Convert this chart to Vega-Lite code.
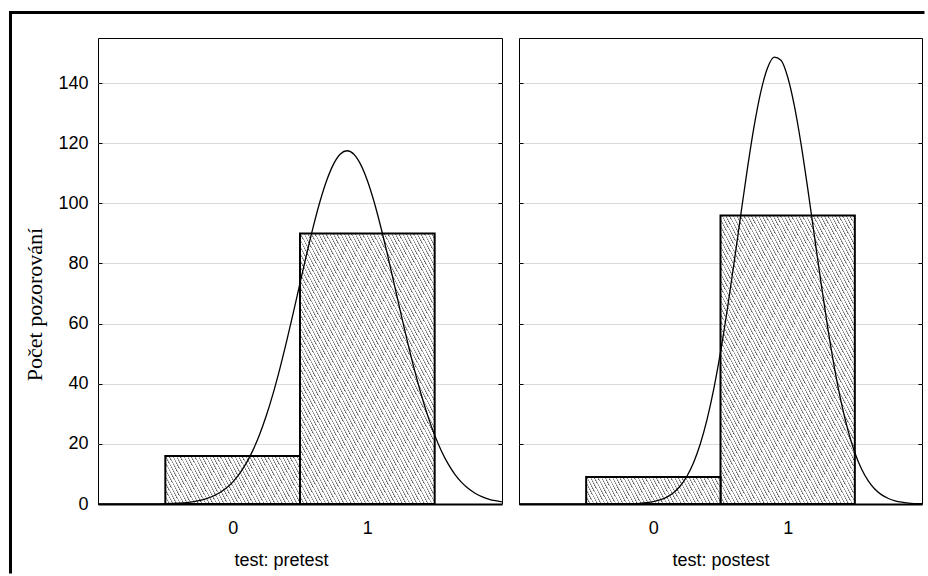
{
  "$schema": "https://vega.github.io/schema/vega-lite/v6.json",
  "padding": {"left": 7, "top": 9, "right": 0, "bottom": 0},
  "background": "white",
  "datasets": {
    "bars_pre": [
      {"start": -0.5, "end": 0.5, "count": 16},
      {"start": 0.5, "end": 1.5, "count": 90}
    ],
    "bars_post": [
      {"start": -0.5, "end": 0.5, "count": 9},
      {"start": 0.5, "end": 1.5, "count": 96}
    ],
    "curve_pre": [
      {"x": -1, "y": 0}, {"x": -0.8, "y": 0}, {"x": -0.6, "y": 0.04}, {"x": -0.5, "y": 0.1},
      {"x": -0.4, "y": 0.29}, {"x": -0.3, "y": 0.72}, {"x": -0.2, "y": 1.68}, {"x": -0.1, "y": 3.64},
      {"x": -0.05, "y": 5.2}, {"x": 0, "y": 7.28}, {"x": 0.05, "y": 10.01}, {"x": 0.1, "y": 13.49},
      {"x": 0.15, "y": 17.84}, {"x": 0.2, "y": 23.14}, {"x": 0.25, "y": 29.43}, {"x": 0.3, "y": 36.73},
      {"x": 0.35, "y": 44.97}, {"x": 0.4, "y": 53.98}, {"x": 0.45, "y": 63.58}, {"x": 0.5, "y": 73.45},
      {"x": 0.55, "y": 83.23}, {"x": 0.6, "y": 92.5}, {"x": 0.65, "y": 100.85}, {"x": 0.7, "y": 107.85},
      {"x": 0.75, "y": 113.14}, {"x": 0.8, "y": 116.42}, {"x": 0.85, "y": 117.5}, {"x": 0.9, "y": 116.33},
      {"x": 0.95, "y": 112.96}, {"x": 1, "y": 107.61}, {"x": 1.05, "y": 100.55}, {"x": 1.1, "y": 92.14},
      {"x": 1.15, "y": 82.84}, {"x": 1.2, "y": 73.05}, {"x": 1.25, "y": 63.18}, {"x": 1.3, "y": 53.61},
      {"x": 1.35, "y": 44.62}, {"x": 1.4, "y": 36.43}, {"x": 1.45, "y": 29.16}, {"x": 1.5, "y": 22.91},
      {"x": 1.55, "y": 17.65}, {"x": 1.6, "y": 13.34}, {"x": 1.65, "y": 9.89}, {"x": 1.7, "y": 7.19},
      {"x": 1.75, "y": 5.13}, {"x": 1.8, "y": 3.59}, {"x": 1.85, "y": 2.46}, {"x": 1.9, "y": 1.66},
      {"x": 1.95, "y": 1.09}, {"x": 2, "y": 0.71}
    ],
    "curve_post": [
      {"x": -1, "y": 0}, {"x": -0.6, "y": 0}, {"x": -0.4, "y": 0}, {"x": -0.3, "y": 0.01},
      {"x": -0.2, "y": 0.06}, {"x": -0.1, "y": 0.23}, {"x": -0.05, "y": 0.42}, {"x": 0, "y": 0.77},
      {"x": 0.05, "y": 1.34}, {"x": 0.1, "y": 2.28}, {"x": 0.15, "y": 3.75}, {"x": 0.2, "y": 5.98},
      {"x": 0.25, "y": 9.23}, {"x": 0.3, "y": 13.82}, {"x": 0.35, "y": 20.02}, {"x": 0.4, "y": 28.12},
      {"x": 0.45, "y": 38.29}, {"x": 0.5, "y": 50.5}, {"x": 0.55, "y": 64.53}, {"x": 0.6, "y": 79.91},
      {"x": 0.65, "y": 95.89}, {"x": 0.7, "y": 111.48}, {"x": 0.75, "y": 125.59}, {"x": 0.8, "y": 137.09},
      {"x": 0.85, "y": 145.01}, {"x": 0.9, "y": 148.62}, {"x": 0.95, "y": 147.59}, {"x": 1, "y": 142.03},
      {"x": 1.05, "y": 132.42}, {"x": 1.1, "y": 119.64}, {"x": 1.15, "y": 104.73}, {"x": 1.2, "y": 88.85},
      {"x": 1.25, "y": 73.03}, {"x": 1.3, "y": 58.17}, {"x": 1.35, "y": 44.88}, {"x": 1.4, "y": 33.55},
      {"x": 1.45, "y": 24.31}, {"x": 1.5, "y": 17.07}, {"x": 1.55, "y": 11.62}, {"x": 1.6, "y": 7.66},
      {"x": 1.65, "y": 4.89}, {"x": 1.7, "y": 3.03}, {"x": 1.75, "y": 1.82}, {"x": 1.8, "y": 1.05},
      {"x": 1.85, "y": 0.59}, {"x": 1.9, "y": 0.32}, {"x": 2, "y": 0.09}
    ]
  },
  "config": {
    "view": {"stroke": "#000", "strokeWidth": 1},
    "axis": {
      "labelFont": "Liberation Sans", "labelFontSize": 18, "labelColor": "#000",
      "titleFont": "Liberation Sans", "titleFontSize": 18, "titleFontWeight": "normal", "titleColor": "#000",
      "tickColor": "#000", "tickWidth": 1, "domain": false, "grid": false, "gridColor": "#dadada", "gridWidth": 1
    }
  },
  "spacing": 17,
  "bounds": "flush",
  "hconcat": [
    {
      "width": 404, "height": 466,
      "resolve": {"axis": {"x": "independent", "y": "independent"}},
      "layer": [
        {
          "data": {"name": "bars_pre"},
          "transform": [{"filter": "datum.start < 0"}],
          "mark": {"type": "rect", "stroke": "#000", "strokeWidth": 2,
                   "fill": {"gradient": "linear", "x1": 0, "y1": 1, "x2": 2.6129, "y2": 0.49554, "stops": [
{"offset":0,"color":"#555"},{"offset":0.004,"color":"#fff"},{"offset":0.01,"color":"#fff"},
{"offset":0.01,"color":"#555"},{"offset":0.014,"color":"#fff"},{"offset":0.02,"color":"#fff"},
{"offset":0.02,"color":"#555"},{"offset":0.024,"color":"#fff"},{"offset":0.03,"color":"#fff"},
{"offset":0.03,"color":"#555"},{"offset":0.034,"color":"#fff"},{"offset":0.04,"color":"#fff"},
{"offset":0.04,"color":"#555"},{"offset":0.044,"color":"#fff"},{"offset":0.05,"color":"#fff"},
{"offset":0.05,"color":"#555"},{"offset":0.054,"color":"#fff"},{"offset":0.06,"color":"#fff"},
{"offset":0.06,"color":"#555"},{"offset":0.064,"color":"#fff"},{"offset":0.07,"color":"#fff"},
{"offset":0.07,"color":"#555"},{"offset":0.074,"color":"#fff"},{"offset":0.08,"color":"#fff"},
{"offset":0.08,"color":"#555"},{"offset":0.084,"color":"#fff"},{"offset":0.09,"color":"#fff"},
{"offset":0.09,"color":"#555"},{"offset":0.094,"color":"#fff"},{"offset":0.1,"color":"#fff"},
{"offset":0.1,"color":"#555"},{"offset":0.104,"color":"#fff"},{"offset":0.11,"color":"#fff"},
{"offset":0.11,"color":"#555"},{"offset":0.114,"color":"#fff"},{"offset":0.12,"color":"#fff"},
{"offset":0.12,"color":"#555"},{"offset":0.124,"color":"#fff"},{"offset":0.13,"color":"#fff"},
{"offset":0.13,"color":"#555"},{"offset":0.134,"color":"#fff"},{"offset":0.14,"color":"#fff"},
{"offset":0.14,"color":"#555"},{"offset":0.144,"color":"#fff"},{"offset":0.15,"color":"#fff"},
{"offset":0.15,"color":"#555"},{"offset":0.154,"color":"#fff"},{"offset":0.16,"color":"#fff"},
{"offset":0.16,"color":"#555"},{"offset":0.164,"color":"#fff"},{"offset":0.17,"color":"#fff"},
{"offset":0.17,"color":"#555"},{"offset":0.174,"color":"#fff"},{"offset":0.18,"color":"#fff"},
{"offset":0.18,"color":"#555"},{"offset":0.184,"color":"#fff"},{"offset":0.19,"color":"#fff"},
{"offset":0.19,"color":"#555"},{"offset":0.194,"color":"#fff"},{"offset":0.2,"color":"#fff"},
{"offset":0.2,"color":"#555"},{"offset":0.204,"color":"#fff"},{"offset":0.21,"color":"#fff"},
{"offset":0.21,"color":"#555"},{"offset":0.214,"color":"#fff"},{"offset":0.22,"color":"#fff"},
{"offset":0.22,"color":"#555"},{"offset":0.224,"color":"#fff"},{"offset":0.23,"color":"#fff"},
{"offset":0.23,"color":"#555"},{"offset":0.234,"color":"#fff"},{"offset":0.24,"color":"#fff"},
{"offset":0.24,"color":"#555"},{"offset":0.244,"color":"#fff"},{"offset":0.25,"color":"#fff"},
{"offset":0.25,"color":"#555"},{"offset":0.254,"color":"#fff"},{"offset":0.26,"color":"#fff"},
{"offset":0.26,"color":"#555"},{"offset":0.264,"color":"#fff"},{"offset":0.27,"color":"#fff"},
{"offset":0.27,"color":"#555"},{"offset":0.274,"color":"#fff"},{"offset":0.28,"color":"#fff"},
{"offset":0.28,"color":"#555"},{"offset":0.284,"color":"#fff"},{"offset":0.29,"color":"#fff"},
{"offset":0.29,"color":"#555"},{"offset":0.294,"color":"#fff"},{"offset":0.3,"color":"#fff"},
{"offset":0.3,"color":"#555"},{"offset":0.304,"color":"#fff"},{"offset":0.31,"color":"#fff"},
{"offset":0.31,"color":"#555"},{"offset":0.314,"color":"#fff"},{"offset":0.32,"color":"#fff"},
{"offset":0.32,"color":"#555"},{"offset":0.324,"color":"#fff"},{"offset":0.33,"color":"#fff"},
{"offset":0.33,"color":"#555"},{"offset":0.334,"color":"#fff"},{"offset":0.34,"color":"#fff"},
{"offset":0.34,"color":"#555"},{"offset":0.344,"color":"#fff"},{"offset":0.35,"color":"#fff"},
{"offset":0.35,"color":"#555"},{"offset":0.354,"color":"#fff"},{"offset":0.36,"color":"#fff"},
{"offset":0.36,"color":"#555"},{"offset":0.364,"color":"#fff"},{"offset":0.37,"color":"#fff"},
{"offset":0.37,"color":"#555"},{"offset":0.374,"color":"#fff"},{"offset":0.38,"color":"#fff"},
{"offset":0.38,"color":"#555"},{"offset":0.384,"color":"#fff"},{"offset":0.39,"color":"#fff"},
{"offset":0.39,"color":"#555"},{"offset":0.394,"color":"#fff"},{"offset":0.4,"color":"#fff"},
{"offset":0.4,"color":"#555"},{"offset":0.404,"color":"#fff"},{"offset":0.41,"color":"#fff"},
{"offset":0.41,"color":"#555"},{"offset":0.414,"color":"#fff"},{"offset":0.42,"color":"#fff"},
{"offset":0.42,"color":"#555"},{"offset":0.424,"color":"#fff"},{"offset":0.43,"color":"#fff"},
{"offset":0.43,"color":"#555"},{"offset":0.434,"color":"#fff"},{"offset":0.44,"color":"#fff"},
{"offset":0.44,"color":"#555"},{"offset":0.444,"color":"#fff"},{"offset":0.45,"color":"#fff"}
                   ]}},
          "encoding": {
            "x": {"field": "start", "type": "quantitative", "scale": {"domain": [-1, 2], "nice": false},
                  "axis": {"orient": "bottom", "values": [0, 1], "title": "test: pretest", "tickSize": -3, "labelPadding": 18, "titlePadding": 14,
                           "domain": true, "domainColor": "#000", "domainWidth": 2, "titleX": 183}},
            "x2": {"field": "end"},
            "y": {"field": "count", "type": "quantitative", "scale": {"domain": [0, 155], "nice": false},
                  "axis": {"orient": "left", "values": [0, 20, 40, 60, 80, 100, 120, 140], "grid": true, "tickSize": -4,
                           "labelPadding": 14, "title": "Počet pozorování", "titleFont": "Liberation Serif",
                           "titleFontSize": 22, "titlePadding": 11, "titleY": 266}},
            "y2": {"datum": 0}
          }
        },
        {
          "data": {"name": "bars_pre"},
          "transform": [{"filter": "datum.start > 0"}],
          "mark": {"type": "rect", "stroke": "#000", "strokeWidth": 2,
                   "fill": {"gradient": "linear", "x1": 0, "y1": 1, "x2": 1.24354, "y2": -0.35056, "stops": [
{"offset":0,"color":"#555"},{"offset":0.004,"color":"#fff"},{"offset":0.01,"color":"#fff"},
{"offset":0.01,"color":"#555"},{"offset":0.014,"color":"#fff"},{"offset":0.02,"color":"#fff"},
{"offset":0.02,"color":"#555"},{"offset":0.024,"color":"#fff"},{"offset":0.03,"color":"#fff"},
{"offset":0.03,"color":"#555"},{"offset":0.034,"color":"#fff"},{"offset":0.04,"color":"#fff"},
{"offset":0.04,"color":"#555"},{"offset":0.044,"color":"#fff"},{"offset":0.05,"color":"#fff"},
{"offset":0.05,"color":"#555"},{"offset":0.054,"color":"#fff"},{"offset":0.06,"color":"#fff"},
{"offset":0.06,"color":"#555"},{"offset":0.064,"color":"#fff"},{"offset":0.07,"color":"#fff"},
{"offset":0.07,"color":"#555"},{"offset":0.074,"color":"#fff"},{"offset":0.08,"color":"#fff"},
{"offset":0.08,"color":"#555"},{"offset":0.084,"color":"#fff"},{"offset":0.09,"color":"#fff"},
{"offset":0.09,"color":"#555"},{"offset":0.094,"color":"#fff"},{"offset":0.1,"color":"#fff"},
{"offset":0.1,"color":"#555"},{"offset":0.104,"color":"#fff"},{"offset":0.11,"color":"#fff"},
{"offset":0.11,"color":"#555"},{"offset":0.114,"color":"#fff"},{"offset":0.12,"color":"#fff"},
{"offset":0.12,"color":"#555"},{"offset":0.124,"color":"#fff"},{"offset":0.13,"color":"#fff"},
{"offset":0.13,"color":"#555"},{"offset":0.134,"color":"#fff"},{"offset":0.14,"color":"#fff"},
{"offset":0.14,"color":"#555"},{"offset":0.144,"color":"#fff"},{"offset":0.15,"color":"#fff"},
{"offset":0.15,"color":"#555"},{"offset":0.154,"color":"#fff"},{"offset":0.16,"color":"#fff"},
{"offset":0.16,"color":"#555"},{"offset":0.164,"color":"#fff"},{"offset":0.17,"color":"#fff"},
{"offset":0.17,"color":"#555"},{"offset":0.174,"color":"#fff"},{"offset":0.18,"color":"#fff"},
{"offset":0.18,"color":"#555"},{"offset":0.184,"color":"#fff"},{"offset":0.19,"color":"#fff"},
{"offset":0.19,"color":"#555"},{"offset":0.194,"color":"#fff"},{"offset":0.2,"color":"#fff"},
{"offset":0.2,"color":"#555"},{"offset":0.204,"color":"#fff"},{"offset":0.21,"color":"#fff"},
{"offset":0.21,"color":"#555"},{"offset":0.214,"color":"#fff"},{"offset":0.22,"color":"#fff"},
{"offset":0.22,"color":"#555"},{"offset":0.224,"color":"#fff"},{"offset":0.23,"color":"#fff"},
{"offset":0.23,"color":"#555"},{"offset":0.234,"color":"#fff"},{"offset":0.24,"color":"#fff"},
{"offset":0.24,"color":"#555"},{"offset":0.244,"color":"#fff"},{"offset":0.25,"color":"#fff"},
{"offset":0.25,"color":"#555"},{"offset":0.254,"color":"#fff"},{"offset":0.26,"color":"#fff"},
{"offset":0.26,"color":"#555"},{"offset":0.264,"color":"#fff"},{"offset":0.27,"color":"#fff"},
{"offset":0.27,"color":"#555"},{"offset":0.274,"color":"#fff"},{"offset":0.28,"color":"#fff"},
{"offset":0.28,"color":"#555"},{"offset":0.284,"color":"#fff"},{"offset":0.29,"color":"#fff"},
{"offset":0.29,"color":"#555"},{"offset":0.294,"color":"#fff"},{"offset":0.3,"color":"#fff"},
{"offset":0.3,"color":"#555"},{"offset":0.304,"color":"#fff"},{"offset":0.31,"color":"#fff"},
{"offset":0.31,"color":"#555"},{"offset":0.314,"color":"#fff"},{"offset":0.32,"color":"#fff"},
{"offset":0.32,"color":"#555"},{"offset":0.324,"color":"#fff"},{"offset":0.33,"color":"#fff"},
{"offset":0.33,"color":"#555"},{"offset":0.334,"color":"#fff"},{"offset":0.34,"color":"#fff"},
{"offset":0.34,"color":"#555"},{"offset":0.344,"color":"#fff"},{"offset":0.35,"color":"#fff"},
{"offset":0.35,"color":"#555"},{"offset":0.354,"color":"#fff"},{"offset":0.36,"color":"#fff"},
{"offset":0.36,"color":"#555"},{"offset":0.364,"color":"#fff"},{"offset":0.37,"color":"#fff"},
{"offset":0.37,"color":"#555"},{"offset":0.374,"color":"#fff"},{"offset":0.38,"color":"#fff"},
{"offset":0.38,"color":"#555"},{"offset":0.384,"color":"#fff"},{"offset":0.39,"color":"#fff"},
{"offset":0.39,"color":"#555"},{"offset":0.394,"color":"#fff"},{"offset":0.4,"color":"#fff"},
{"offset":0.4,"color":"#555"},{"offset":0.404,"color":"#fff"},{"offset":0.41,"color":"#fff"},
{"offset":0.41,"color":"#555"},{"offset":0.414,"color":"#fff"},{"offset":0.42,"color":"#fff"},
{"offset":0.42,"color":"#555"},{"offset":0.424,"color":"#fff"},{"offset":0.43,"color":"#fff"},
{"offset":0.43,"color":"#555"},{"offset":0.434,"color":"#fff"},{"offset":0.44,"color":"#fff"},
{"offset":0.44,"color":"#555"},{"offset":0.444,"color":"#fff"},{"offset":0.45,"color":"#fff"},
{"offset":0.45,"color":"#555"},{"offset":0.454,"color":"#fff"},{"offset":0.46,"color":"#fff"},
{"offset":0.46,"color":"#555"},{"offset":0.464,"color":"#fff"},{"offset":0.47,"color":"#fff"},
{"offset":0.47,"color":"#555"},{"offset":0.474,"color":"#fff"},{"offset":0.48,"color":"#fff"},
{"offset":0.48,"color":"#555"},{"offset":0.484,"color":"#fff"},{"offset":0.49,"color":"#fff"},
{"offset":0.49,"color":"#555"},{"offset":0.494,"color":"#fff"},{"offset":0.5,"color":"#fff"},
{"offset":0.5,"color":"#555"},{"offset":0.504,"color":"#fff"},{"offset":0.51,"color":"#fff"},
{"offset":0.51,"color":"#555"},{"offset":0.514,"color":"#fff"},{"offset":0.52,"color":"#fff"},
{"offset":0.52,"color":"#555"},{"offset":0.524,"color":"#fff"},{"offset":0.53,"color":"#fff"},
{"offset":0.53,"color":"#555"},{"offset":0.534,"color":"#fff"},{"offset":0.54,"color":"#fff"},
{"offset":0.54,"color":"#555"},{"offset":0.544,"color":"#fff"},{"offset":0.55,"color":"#fff"},
{"offset":0.55,"color":"#555"},{"offset":0.554,"color":"#fff"},{"offset":0.56,"color":"#fff"},
{"offset":0.56,"color":"#555"},{"offset":0.564,"color":"#fff"},{"offset":0.57,"color":"#fff"},
{"offset":0.57,"color":"#555"},{"offset":0.574,"color":"#fff"},{"offset":0.58,"color":"#fff"},
{"offset":0.58,"color":"#555"},{"offset":0.584,"color":"#fff"},{"offset":0.59,"color":"#fff"},
{"offset":0.59,"color":"#555"},{"offset":0.594,"color":"#fff"},{"offset":0.6,"color":"#fff"},
{"offset":0.6,"color":"#555"},{"offset":0.604,"color":"#fff"},{"offset":0.61,"color":"#fff"},
{"offset":0.61,"color":"#555"},{"offset":0.614,"color":"#fff"},{"offset":0.62,"color":"#fff"},
{"offset":0.62,"color":"#555"},{"offset":0.624,"color":"#fff"},{"offset":0.63,"color":"#fff"},
{"offset":0.63,"color":"#555"},{"offset":0.634,"color":"#fff"},{"offset":0.64,"color":"#fff"},
{"offset":0.64,"color":"#555"},{"offset":0.644,"color":"#fff"},{"offset":0.65,"color":"#fff"},
{"offset":0.65,"color":"#555"},{"offset":0.654,"color":"#fff"},{"offset":0.66,"color":"#fff"},
{"offset":0.66,"color":"#555"},{"offset":0.664,"color":"#fff"},{"offset":0.67,"color":"#fff"},
{"offset":0.67,"color":"#555"},{"offset":0.674,"color":"#fff"},{"offset":0.68,"color":"#fff"},
{"offset":0.68,"color":"#555"},{"offset":0.684,"color":"#fff"},{"offset":0.69,"color":"#fff"},
{"offset":0.69,"color":"#555"},{"offset":0.694,"color":"#fff"},{"offset":0.7,"color":"#fff"},
{"offset":0.7,"color":"#555"},{"offset":0.704,"color":"#fff"},{"offset":0.71,"color":"#fff"},
{"offset":0.71,"color":"#555"},{"offset":0.714,"color":"#fff"},{"offset":0.72,"color":"#fff"},
{"offset":0.72,"color":"#555"},{"offset":0.724,"color":"#fff"},{"offset":0.73,"color":"#fff"},
{"offset":0.73,"color":"#555"},{"offset":0.734,"color":"#fff"},{"offset":0.74,"color":"#fff"},
{"offset":0.74,"color":"#555"},{"offset":0.744,"color":"#fff"},{"offset":0.75,"color":"#fff"},
{"offset":0.75,"color":"#555"},{"offset":0.754,"color":"#fff"},{"offset":0.76,"color":"#fff"},
{"offset":0.76,"color":"#555"},{"offset":0.764,"color":"#fff"},{"offset":0.77,"color":"#fff"}
                   ]}},
          "encoding": {
            "x": {"field": "start", "type": "quantitative", "scale": {"domain": [-1, 2], "nice": false}, "axis": null},
            "x2": {"field": "end"},
            "y": {"field": "count", "type": "quantitative", "scale": {"domain": [0, 155], "nice": false}, "axis": null},
            "y2": {"datum": 0}
          }
        },
        {
          "data": {"name": "curve_pre"},
          "mark": {"type": "line", "stroke": "#000", "strokeWidth": 1.3, "interpolate": "monotone"},
          "encoding": {
            "x": {"field": "x", "type": "quantitative", "scale": {"domain": [-1, 2], "nice": false}, "axis": null},
            "y": {"field": "y", "type": "quantitative", "scale": {"domain": [0, 155], "nice": false},
                  "axis": {"orient": "right", "values": [20, 40, 60, 80, 100, 120, 140], "labels": false, "tickSize": -4, "title": null, "grid": false}}
          }
        },
        {
          "data": {"values": [{}]},
          "mark": {"type": "rule", "stroke": "#000", "strokeWidth": 3, "strokeCap": "square"},
          "encoding": {
            "x": {"datum": -1.6498, "type": "quantitative", "scale": {"domain": [-1, 2], "nice": false}, "axis": null},
            "x2": {"datum": 5.126},
            "y": {"datum": 163.48, "type": "quantitative", "scale": {"domain": [0, 155], "nice": false}, "axis": null}
          }
        },
        {
          "data": {"values": [{}]},
          "mark": {"type": "rule", "stroke": "#000", "strokeWidth": 3, "strokeCap": "square"},
          "encoding": {
            "x": {"datum": -1.6498, "type": "quantitative", "scale": {"domain": [-1, 2], "nice": false}, "axis": null},
            "y": {"datum": 163.48, "type": "quantitative", "scale": {"domain": [0, 155], "nice": false}, "axis": null},
            "y2": {"datum": -22.6}
          }
        }
      ]
    },
    {
      "width": 403, "height": 466,
      "resolve": {"axis": {"x": "independent", "y": "independent"}},
      "layer": [
        {
          "data": {"name": "bars_post"},
          "transform": [{"filter": "datum.start > 0"}],
          "mark": {"type": "rect", "stroke": "#000", "strokeWidth": 2,
                   "fill": {"gradient": "linear", "x1": 0, "y1": 1, "x2": 1.15683, "y2": -0.34353, "stops": [
{"offset":0,"color":"#555"},{"offset":0.004,"color":"#fff"},{"offset":0.01,"color":"#fff"},
{"offset":0.01,"color":"#555"},{"offset":0.014,"color":"#fff"},{"offset":0.02,"color":"#fff"},
{"offset":0.02,"color":"#555"},{"offset":0.024,"color":"#fff"},{"offset":0.03,"color":"#fff"},
{"offset":0.03,"color":"#555"},{"offset":0.034,"color":"#fff"},{"offset":0.04,"color":"#fff"},
{"offset":0.04,"color":"#555"},{"offset":0.044,"color":"#fff"},{"offset":0.05,"color":"#fff"},
{"offset":0.05,"color":"#555"},{"offset":0.054,"color":"#fff"},{"offset":0.06,"color":"#fff"},
{"offset":0.06,"color":"#555"},{"offset":0.064,"color":"#fff"},{"offset":0.07,"color":"#fff"},
{"offset":0.07,"color":"#555"},{"offset":0.074,"color":"#fff"},{"offset":0.08,"color":"#fff"},
{"offset":0.08,"color":"#555"},{"offset":0.084,"color":"#fff"},{"offset":0.09,"color":"#fff"},
{"offset":0.09,"color":"#555"},{"offset":0.094,"color":"#fff"},{"offset":0.1,"color":"#fff"},
{"offset":0.1,"color":"#555"},{"offset":0.104,"color":"#fff"},{"offset":0.11,"color":"#fff"},
{"offset":0.11,"color":"#555"},{"offset":0.114,"color":"#fff"},{"offset":0.12,"color":"#fff"},
{"offset":0.12,"color":"#555"},{"offset":0.124,"color":"#fff"},{"offset":0.13,"color":"#fff"},
{"offset":0.13,"color":"#555"},{"offset":0.134,"color":"#fff"},{"offset":0.14,"color":"#fff"},
{"offset":0.14,"color":"#555"},{"offset":0.144,"color":"#fff"},{"offset":0.15,"color":"#fff"},
{"offset":0.15,"color":"#555"},{"offset":0.154,"color":"#fff"},{"offset":0.16,"color":"#fff"},
{"offset":0.16,"color":"#555"},{"offset":0.164,"color":"#fff"},{"offset":0.17,"color":"#fff"},
{"offset":0.17,"color":"#555"},{"offset":0.174,"color":"#fff"},{"offset":0.18,"color":"#fff"},
{"offset":0.18,"color":"#555"},{"offset":0.184,"color":"#fff"},{"offset":0.19,"color":"#fff"},
{"offset":0.19,"color":"#555"},{"offset":0.194,"color":"#fff"},{"offset":0.2,"color":"#fff"},
{"offset":0.2,"color":"#555"},{"offset":0.204,"color":"#fff"},{"offset":0.21,"color":"#fff"},
{"offset":0.21,"color":"#555"},{"offset":0.214,"color":"#fff"},{"offset":0.22,"color":"#fff"},
{"offset":0.22,"color":"#555"},{"offset":0.224,"color":"#fff"},{"offset":0.23,"color":"#fff"},
{"offset":0.23,"color":"#555"},{"offset":0.234,"color":"#fff"},{"offset":0.24,"color":"#fff"},
{"offset":0.24,"color":"#555"},{"offset":0.244,"color":"#fff"},{"offset":0.25,"color":"#fff"},
{"offset":0.25,"color":"#555"},{"offset":0.254,"color":"#fff"},{"offset":0.26,"color":"#fff"},
{"offset":0.26,"color":"#555"},{"offset":0.264,"color":"#fff"},{"offset":0.27,"color":"#fff"},
{"offset":0.27,"color":"#555"},{"offset":0.274,"color":"#fff"},{"offset":0.28,"color":"#fff"},
{"offset":0.28,"color":"#555"},{"offset":0.284,"color":"#fff"},{"offset":0.29,"color":"#fff"},
{"offset":0.29,"color":"#555"},{"offset":0.294,"color":"#fff"},{"offset":0.3,"color":"#fff"},
{"offset":0.3,"color":"#555"},{"offset":0.304,"color":"#fff"},{"offset":0.31,"color":"#fff"},
{"offset":0.31,"color":"#555"},{"offset":0.314,"color":"#fff"},{"offset":0.32,"color":"#fff"},
{"offset":0.32,"color":"#555"},{"offset":0.324,"color":"#fff"},{"offset":0.33,"color":"#fff"},
{"offset":0.33,"color":"#555"},{"offset":0.334,"color":"#fff"},{"offset":0.34,"color":"#fff"},
{"offset":0.34,"color":"#555"},{"offset":0.344,"color":"#fff"},{"offset":0.35,"color":"#fff"},
{"offset":0.35,"color":"#555"},{"offset":0.354,"color":"#fff"},{"offset":0.36,"color":"#fff"},
{"offset":0.36,"color":"#555"},{"offset":0.364,"color":"#fff"},{"offset":0.37,"color":"#fff"},
{"offset":0.37,"color":"#555"},{"offset":0.374,"color":"#fff"},{"offset":0.38,"color":"#fff"},
{"offset":0.38,"color":"#555"},{"offset":0.384,"color":"#fff"},{"offset":0.39,"color":"#fff"},
{"offset":0.39,"color":"#555"},{"offset":0.394,"color":"#fff"},{"offset":0.4,"color":"#fff"},
{"offset":0.4,"color":"#555"},{"offset":0.404,"color":"#fff"},{"offset":0.41,"color":"#fff"},
{"offset":0.41,"color":"#555"},{"offset":0.414,"color":"#fff"},{"offset":0.42,"color":"#fff"},
{"offset":0.42,"color":"#555"},{"offset":0.424,"color":"#fff"},{"offset":0.43,"color":"#fff"},
{"offset":0.43,"color":"#555"},{"offset":0.434,"color":"#fff"},{"offset":0.44,"color":"#fff"},
{"offset":0.44,"color":"#555"},{"offset":0.444,"color":"#fff"},{"offset":0.45,"color":"#fff"},
{"offset":0.45,"color":"#555"},{"offset":0.454,"color":"#fff"},{"offset":0.46,"color":"#fff"},
{"offset":0.46,"color":"#555"},{"offset":0.464,"color":"#fff"},{"offset":0.47,"color":"#fff"},
{"offset":0.47,"color":"#555"},{"offset":0.474,"color":"#fff"},{"offset":0.48,"color":"#fff"},
{"offset":0.48,"color":"#555"},{"offset":0.484,"color":"#fff"},{"offset":0.49,"color":"#fff"},
{"offset":0.49,"color":"#555"},{"offset":0.494,"color":"#fff"},{"offset":0.5,"color":"#fff"},
{"offset":0.5,"color":"#555"},{"offset":0.504,"color":"#fff"},{"offset":0.51,"color":"#fff"},
{"offset":0.51,"color":"#555"},{"offset":0.514,"color":"#fff"},{"offset":0.52,"color":"#fff"},
{"offset":0.52,"color":"#555"},{"offset":0.524,"color":"#fff"},{"offset":0.53,"color":"#fff"},
{"offset":0.53,"color":"#555"},{"offset":0.534,"color":"#fff"},{"offset":0.54,"color":"#fff"},
{"offset":0.54,"color":"#555"},{"offset":0.544,"color":"#fff"},{"offset":0.55,"color":"#fff"},
{"offset":0.55,"color":"#555"},{"offset":0.554,"color":"#fff"},{"offset":0.56,"color":"#fff"},
{"offset":0.56,"color":"#555"},{"offset":0.564,"color":"#fff"},{"offset":0.57,"color":"#fff"},
{"offset":0.57,"color":"#555"},{"offset":0.574,"color":"#fff"},{"offset":0.58,"color":"#fff"},
{"offset":0.58,"color":"#555"},{"offset":0.584,"color":"#fff"},{"offset":0.59,"color":"#fff"},
{"offset":0.59,"color":"#555"},{"offset":0.594,"color":"#fff"},{"offset":0.6,"color":"#fff"},
{"offset":0.6,"color":"#555"},{"offset":0.604,"color":"#fff"},{"offset":0.61,"color":"#fff"},
{"offset":0.61,"color":"#555"},{"offset":0.614,"color":"#fff"},{"offset":0.62,"color":"#fff"},
{"offset":0.62,"color":"#555"},{"offset":0.624,"color":"#fff"},{"offset":0.63,"color":"#fff"},
{"offset":0.63,"color":"#555"},{"offset":0.634,"color":"#fff"},{"offset":0.64,"color":"#fff"},
{"offset":0.64,"color":"#555"},{"offset":0.644,"color":"#fff"},{"offset":0.65,"color":"#fff"},
{"offset":0.65,"color":"#555"},{"offset":0.654,"color":"#fff"},{"offset":0.66,"color":"#fff"},
{"offset":0.66,"color":"#555"},{"offset":0.664,"color":"#fff"},{"offset":0.67,"color":"#fff"},
{"offset":0.67,"color":"#555"},{"offset":0.674,"color":"#fff"},{"offset":0.68,"color":"#fff"},
{"offset":0.68,"color":"#555"},{"offset":0.684,"color":"#fff"},{"offset":0.69,"color":"#fff"},
{"offset":0.69,"color":"#555"},{"offset":0.694,"color":"#fff"},{"offset":0.7,"color":"#fff"},
{"offset":0.7,"color":"#555"},{"offset":0.704,"color":"#fff"},{"offset":0.71,"color":"#fff"},
{"offset":0.71,"color":"#555"},{"offset":0.714,"color":"#fff"},{"offset":0.72,"color":"#fff"},
{"offset":0.72,"color":"#555"},{"offset":0.724,"color":"#fff"},{"offset":0.73,"color":"#fff"},
{"offset":0.73,"color":"#555"},{"offset":0.734,"color":"#fff"},{"offset":0.74,"color":"#fff"},
{"offset":0.74,"color":"#555"},{"offset":0.744,"color":"#fff"},{"offset":0.75,"color":"#fff"},
{"offset":0.75,"color":"#555"},{"offset":0.754,"color":"#fff"},{"offset":0.76,"color":"#fff"},
{"offset":0.76,"color":"#555"},{"offset":0.764,"color":"#fff"},{"offset":0.77,"color":"#fff"},
{"offset":0.77,"color":"#555"},{"offset":0.774,"color":"#fff"},{"offset":0.78,"color":"#fff"},
{"offset":0.78,"color":"#555"},{"offset":0.784,"color":"#fff"},{"offset":0.79,"color":"#fff"},
{"offset":0.79,"color":"#555"},{"offset":0.794,"color":"#fff"},{"offset":0.8,"color":"#fff"}
                   ]}},
          "encoding": {
            "x": {"field": "start", "type": "quantitative", "scale": {"domain": [-1, 2], "nice": false},
                  "axis": {"orient": "bottom", "values": [0, 1], "title": "test: postest", "tickSize": -3, "labelPadding": 18, "titlePadding": 14,
                           "domain": true, "domainColor": "#000", "domainWidth": 2}},
            "x2": {"field": "end"},
            "y": {"field": "count", "type": "quantitative", "scale": {"domain": [0, 155], "nice": false},
                  "axis": {"orient": "left", "values": [20, 40, 60, 80, 100, 120, 140], "grid": true, "tickSize": -4,
                           "labels": false, "title": null}},
            "y2": {"datum": 0}
          }
        },
        {
          "data": {"name": "bars_post"},
          "transform": [{"filter": "datum.start < 0"}],
          "mark": {"type": "rect", "stroke": "#000", "strokeWidth": 2,
                   "fill": {"gradient": "linear", "x1": 0, "y1": 1, "x2": 2.6853, "y2": 0.70755, "stops": [
{"offset":0,"color":"#555"},{"offset":0.004,"color":"#fff"},{"offset":0.01,"color":"#fff"},
{"offset":0.01,"color":"#555"},{"offset":0.014,"color":"#fff"},{"offset":0.02,"color":"#fff"},
{"offset":0.02,"color":"#555"},{"offset":0.024,"color":"#fff"},{"offset":0.03,"color":"#fff"},
{"offset":0.03,"color":"#555"},{"offset":0.034,"color":"#fff"},{"offset":0.04,"color":"#fff"},
{"offset":0.04,"color":"#555"},{"offset":0.044,"color":"#fff"},{"offset":0.05,"color":"#fff"},
{"offset":0.05,"color":"#555"},{"offset":0.054,"color":"#fff"},{"offset":0.06,"color":"#fff"},
{"offset":0.06,"color":"#555"},{"offset":0.064,"color":"#fff"},{"offset":0.07,"color":"#fff"},
{"offset":0.07,"color":"#555"},{"offset":0.074,"color":"#fff"},{"offset":0.08,"color":"#fff"},
{"offset":0.08,"color":"#555"},{"offset":0.084,"color":"#fff"},{"offset":0.09,"color":"#fff"},
{"offset":0.09,"color":"#555"},{"offset":0.094,"color":"#fff"},{"offset":0.1,"color":"#fff"},
{"offset":0.1,"color":"#555"},{"offset":0.104,"color":"#fff"},{"offset":0.11,"color":"#fff"},
{"offset":0.11,"color":"#555"},{"offset":0.114,"color":"#fff"},{"offset":0.12,"color":"#fff"},
{"offset":0.12,"color":"#555"},{"offset":0.124,"color":"#fff"},{"offset":0.13,"color":"#fff"},
{"offset":0.13,"color":"#555"},{"offset":0.134,"color":"#fff"},{"offset":0.14,"color":"#fff"},
{"offset":0.14,"color":"#555"},{"offset":0.144,"color":"#fff"},{"offset":0.15,"color":"#fff"},
{"offset":0.15,"color":"#555"},{"offset":0.154,"color":"#fff"},{"offset":0.16,"color":"#fff"},
{"offset":0.16,"color":"#555"},{"offset":0.164,"color":"#fff"},{"offset":0.17,"color":"#fff"},
{"offset":0.17,"color":"#555"},{"offset":0.174,"color":"#fff"},{"offset":0.18,"color":"#fff"},
{"offset":0.18,"color":"#555"},{"offset":0.184,"color":"#fff"},{"offset":0.19,"color":"#fff"},
{"offset":0.19,"color":"#555"},{"offset":0.194,"color":"#fff"},{"offset":0.2,"color":"#fff"},
{"offset":0.2,"color":"#555"},{"offset":0.204,"color":"#fff"},{"offset":0.21,"color":"#fff"},
{"offset":0.21,"color":"#555"},{"offset":0.214,"color":"#fff"},{"offset":0.22,"color":"#fff"},
{"offset":0.22,"color":"#555"},{"offset":0.224,"color":"#fff"},{"offset":0.23,"color":"#fff"},
{"offset":0.23,"color":"#555"},{"offset":0.234,"color":"#fff"},{"offset":0.24,"color":"#fff"},
{"offset":0.24,"color":"#555"},{"offset":0.244,"color":"#fff"},{"offset":0.25,"color":"#fff"},
{"offset":0.25,"color":"#555"},{"offset":0.254,"color":"#fff"},{"offset":0.26,"color":"#fff"},
{"offset":0.26,"color":"#555"},{"offset":0.264,"color":"#fff"},{"offset":0.27,"color":"#fff"},
{"offset":0.27,"color":"#555"},{"offset":0.274,"color":"#fff"},{"offset":0.28,"color":"#fff"},
{"offset":0.28,"color":"#555"},{"offset":0.284,"color":"#fff"},{"offset":0.29,"color":"#fff"},
{"offset":0.29,"color":"#555"},{"offset":0.294,"color":"#fff"},{"offset":0.3,"color":"#fff"},
{"offset":0.3,"color":"#555"},{"offset":0.304,"color":"#fff"},{"offset":0.31,"color":"#fff"},
{"offset":0.31,"color":"#555"},{"offset":0.314,"color":"#fff"},{"offset":0.32,"color":"#fff"},
{"offset":0.32,"color":"#555"},{"offset":0.324,"color":"#fff"},{"offset":0.33,"color":"#fff"},
{"offset":0.33,"color":"#555"},{"offset":0.334,"color":"#fff"},{"offset":0.34,"color":"#fff"},
{"offset":0.34,"color":"#555"},{"offset":0.344,"color":"#fff"},{"offset":0.35,"color":"#fff"},
{"offset":0.35,"color":"#555"},{"offset":0.354,"color":"#fff"},{"offset":0.36,"color":"#fff"},
{"offset":0.36,"color":"#555"},{"offset":0.364,"color":"#fff"},{"offset":0.37,"color":"#fff"},
{"offset":0.37,"color":"#555"},{"offset":0.374,"color":"#fff"},{"offset":0.38,"color":"#fff"},
{"offset":0.38,"color":"#555"},{"offset":0.384,"color":"#fff"},{"offset":0.39,"color":"#fff"},
{"offset":0.39,"color":"#555"},{"offset":0.394,"color":"#fff"},{"offset":0.4,"color":"#fff"},
{"offset":0.4,"color":"#555"},{"offset":0.404,"color":"#fff"},{"offset":0.41,"color":"#fff"}
                   ]}},
          "encoding": {
            "x": {"field": "start", "type": "quantitative", "scale": {"domain": [-1, 2], "nice": false}, "axis": null},
            "x2": {"field": "end"},
            "y": {"field": "count", "type": "quantitative", "scale": {"domain": [0, 155], "nice": false}, "axis": null},
            "y2": {"datum": 0}
          }
        },
        {
          "data": {"name": "curve_post"},
          "mark": {"type": "line", "stroke": "#000", "strokeWidth": 1.3, "interpolate": "monotone"},
          "encoding": {
            "x": {"field": "x", "type": "quantitative", "scale": {"domain": [-1, 2], "nice": false}, "axis": null},
            "y": {"field": "y", "type": "quantitative", "scale": {"domain": [0, 155], "nice": false},
                  "axis": {"orient": "right", "values": [20, 40, 60, 80, 100, 120, 140], "labels": false, "tickSize": -4, "title": null, "grid": false}}
          }
        }
      ]
    }
  ]
}
